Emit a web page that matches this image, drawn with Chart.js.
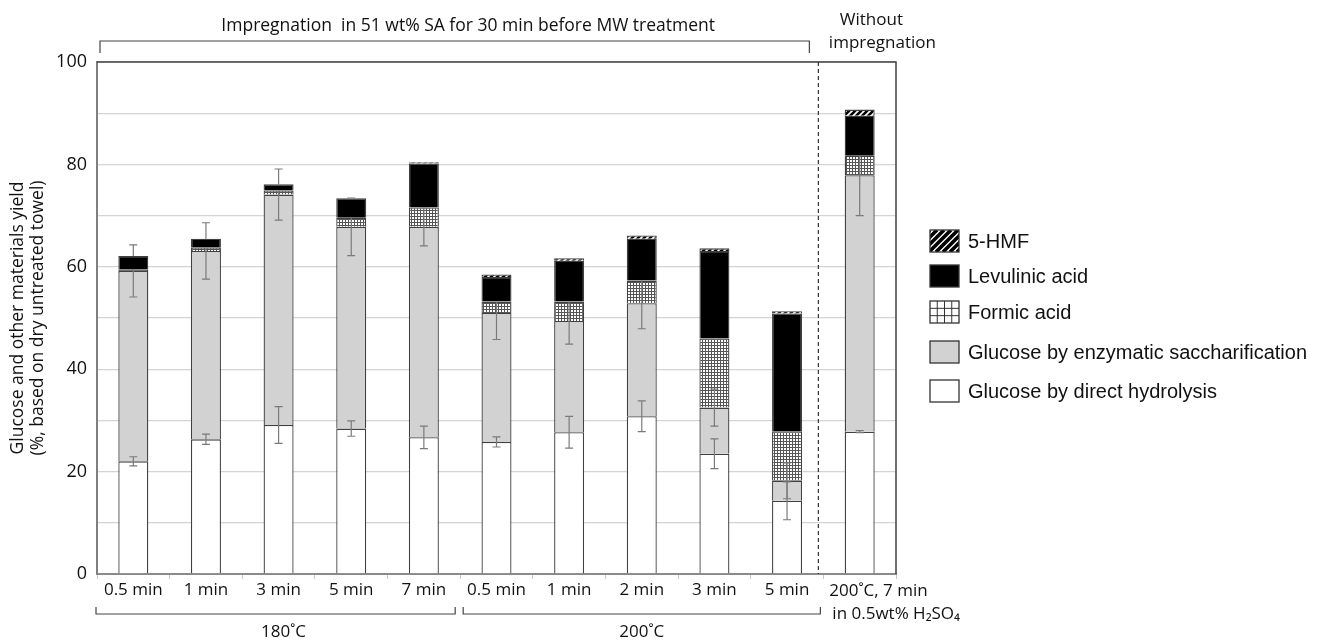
<!DOCTYPE html>
<html>
<head>
<meta charset="utf-8">
<script src="https://cdn.jsdelivr.net/npm/chart.js@4.4.1/dist/chart.umd.min.js"></script>
<style>
  html, body { margin: 0; padding: 0; background: #fff; }
</style>
</head>
<body>
<canvas id="myChart" width="1318" height="643"></canvas>
<script>
// x categories (last one is the reference run without impregnation)
const categories = ['0.5 min', '1 min', '3 min', '5 min', '7 min',
  '0.5 min', '1 min', '2 min', '3 min', '5 min',
  ['200˚C, 7 min', 'in 0.5wt% H₂SO₄']];

// stacked yields, %
const directHydrolysis = [22.0, 26.3, 29.1, 28.4, 26.7, 25.8, 27.7, 30.8, 23.5, 14.3, 27.8];
const enzymatic = [37.2, 36.8, 45.0, 39.4, 41.1, 25.2, 21.7, 22.1, 9.0, 3.9, 50.1];
const formicAcid = [0.3, 0.7, 0.8, 1.8, 3.8, 2.2, 3.8, 4.4, 13.5, 9.7, 3.8];
const levulinicAcid = [2.6, 1.7, 1.2, 3.8, 8.6, 4.8, 8.0, 8.2, 17.1, 23.0, 7.8];
const hmf = [0, 0, 0, 0, 0.2, 0.5, 0.45, 0.6, 0.5, 0.4, 1.2];

// error bars (+/-)
const directErr = [0.9, 1.0, 3.6, 1.5, 2.2, 1.0, 3.1, 3.0, 2.9, 3.7, 0.2];
const enzymaticErr = [5.1, 5.5, 5.0, 5.6, 3.7, 5.2, 4.5, 5.0, 3.6, 3.5, 7.9];

const groupLabels = ['180˚C', '200˚C'];
const topLabel = 'Impregnation  in 51 wt% SA for 30 min before MW treatment';
const sideLabel = ['Without', 'impregnation'];
const legendLabels = ['5-HMF', 'Levulinic acid', 'Formic acid',
  'Glucose by enzymatic saccharification', 'Glucose by direct hydrolysis'];

const canvas = document.getElementById('myChart');
const ctx = canvas.getContext('2d');

function makePattern(size, draw) {
  const c = document.createElement('canvas');
  c.width = size; c.height = size;
  draw(c.getContext('2d'), size);
  return ctx.createPattern(c, 'repeat');
}

const formicFill = makePattern(3, (g, s) => {
  g.fillStyle = '#fff'; g.fillRect(0, 0, s, s);
  g.fillStyle = '#555';
  g.fillRect(0, 0, s, 1); g.fillRect(0, 0, 1, s);
});
const hmfFill = makePattern(6, (g, s) => {
  g.fillStyle = '#fff'; g.fillRect(0, 0, s, s);
  g.strokeStyle = '#000'; g.lineWidth = 2.6;
  g.beginPath();
  g.moveTo(-1, s + 1); g.lineTo(s + 1, -1);
  g.moveTo(-1, 1); g.lineTo(1, -1);
  g.moveTo(s - 1, s + 1); g.lineTo(s + 1, s - 1);
  g.stroke();
});

const EDGE = '#404040';
const textFont = 'Open Sans';
const lastIdx = categories.length - 1;

function bar(label, data, fill) {
  return {
    label: label, data: data, backgroundColor: fill,
    borderColor: EDGE, borderWidth: 1.3,
    barPercentage: 0.413, categoryPercentage: 1
  };
}

// error bars, hidden behind the solid black levulinic segments like in the original
const errorBars = {
  id: 'errorBars',
  afterDatasetsDraw(chart) {
    const c = chart.ctx, ys = chart.scales.y;
    const lev = chart.getDatasetMeta(3).data;
    c.save();
    c.beginPath();
    c.rect(0, 0, chart.width, chart.height);
    lev.forEach(el => {
      const p = el.getProps(['x', 'y', 'base', 'width'], true);
      c.rect(p.x - p.width / 2, Math.min(p.y, p.base), p.width, Math.abs(p.base - p.y));
    });
    c.clip('evenodd');
    c.strokeStyle = '#7a7a7a';
    c.lineWidth = 1.2;
    [[0, directErr], [1, enzymaticErr]].forEach(([di, err]) => {
      chart.getDatasetMeta(di).data.forEach((el, i) => {
        let top = 0;
        for (let k = 0; k <= di; k++) top += chart.data.datasets[k].data[i];
        const x = el.x;
        const y1 = ys.getPixelForValue(top + err[i]);
        const y2 = ys.getPixelForValue(top - err[i]);
        c.beginPath();
        c.moveTo(x, y1); c.lineTo(x, y2);
        c.moveTo(x - 4, y1); c.lineTo(x + 4, y1);
        c.moveTo(x - 4, y2); c.lineTo(x + 4, y2);
        c.stroke();
      });
    });
    c.restore();
  }
};

// frame, dashed divider, brackets, group captions and legend
const annotations = {
  id: 'annotations',
  afterDraw(chart) {
    const c = chart.ctx, xs = chart.scales.x, a = chart.chartArea;
    const n = categories.length;
    const cw = (xs.right - xs.left) / n;
    const b = i => xs.left + i * cw;
    c.save();

    c.strokeStyle = '#404040';
    c.lineWidth = 1.5;
    c.beginPath();
    c.moveTo(a.left, a.top); c.lineTo(a.right, a.top); c.lineTo(a.right, a.bottom);
    c.stroke();

    c.setLineDash([4, 3]);
    c.lineWidth = 1.2;
    c.strokeStyle = '#333';
    c.beginPath();
    c.moveTo(b(10) - 5, a.top); c.lineTo(b(10) - 5, a.bottom);
    c.stroke();
    c.setLineDash([]);

    c.strokeStyle = '#444';
    c.lineWidth = 1.2;
    const bracket = (x1, x2, y, hook) => {
      c.beginPath();
      c.moveTo(x1, y + hook); c.lineTo(x1, y); c.lineTo(x2, y); c.lineTo(x2, y + hook);
      c.stroke();
    };
    bracket(b(0) - 1, b(5) - 5, 614, -7);
    bracket(b(5) + 3, b(10) - 3, 614, -7);
    bracket(b(0) + 3, b(10) - 14, 41, 12);

    c.fillStyle = '#111';
    c.font = '17px "' + textFont + '"';
    c.textAlign = 'center';
    c.textBaseline = 'middle';
    c.fillText(groupLabels[0], (b(0) + b(5)) / 2 + 5, 632);
    c.fillText(groupLabels[1], (b(5) + b(10)) / 2, 632);
    c.font = '17.5px "' + textFont + '"';
    c.fillText(topLabel, (b(0) + b(10)) / 2 + 8, 26);
    c.font = '17px "' + textFont + '"';
    c.fillText(sideLabel[0], b(10) + 48, 20);
    c.fillText(sideLabel[1], b(10) + 59, 43);

    // last category label sits to the right of its bar, left aligned
    c.textAlign = 'left';
    c.fillText(categories[lastIdx][0], b(lastIdx) + 6, 591);
    c.fillText(categories[lastIdx][1], b(lastIdx) + 9, 614);

    // legend
    const fills = [null, '#000', null, '#d2d2d2', '#fff'];
    const rows = [241, 276, 312, 352, 391];
    const bx = 930, bw = 29, bh = 22;
    c.font = '20px "Liberation Sans"';
    legendLabels.forEach((lab, i) => {
      const y = rows[i] - bh / 2;
      c.save();
      c.beginPath(); c.rect(bx, y, bw, bh); c.clip();
      c.fillStyle = '#fff'; c.fillRect(bx, y, bw, bh);
      if (i === 0) {
        c.strokeStyle = '#000'; c.lineWidth = 3.6;
        c.beginPath();
        for (let k = -bh; k < bw + bh; k += 7) {
          c.moveTo(bx + k, y + bh); c.lineTo(bx + k + bh, y);
        }
        c.stroke();
      } else if (i === 2) {
        c.strokeStyle = '#333'; c.lineWidth = 1;
        c.beginPath();
        for (let k = 1; k < 4; k++) { c.moveTo(bx + k * bw / 4, y); c.lineTo(bx + k * bw / 4, y + bh); }
        for (let k = 1; k < 3; k++) { c.moveTo(bx, y + k * bh / 3); c.lineTo(bx + bw, y + k * bh / 3); }
        c.stroke();
      } else {
        c.fillStyle = fills[i]; c.fillRect(bx, y, bw, bh);
      }
      c.restore();
      c.strokeStyle = '#333'; c.lineWidth = 1.3;
      c.strokeRect(bx, y, bw, bh);
      c.fillStyle = '#111';
      c.fillText(lab, bx + 38, rows[i] + 1);
    });
    c.restore();
  }
};

new Chart(canvas, {
  type: 'bar',
  data: {
    labels: categories,
    datasets: [
      bar('Glucose by direct hydrolysis', directHydrolysis, '#ffffff'),
      bar('Glucose by enzymatic saccharification', enzymatic, '#d2d2d2'),
      bar('Formic acid', formicAcid, formicFill),
      bar('Levulinic acid', levulinicAcid, '#000000'),
      bar('5-HMF', hmf, hmfFill)
    ]
  },
  options: {
    responsive: false,
    animation: false,
    devicePixelRatio: 1,
    layout: { padding: { left: 0, right: 422, top: 62, bottom: 0 } },
    plugins: { legend: { display: false }, tooltip: { enabled: false } },
    scales: {
      x: {
        stacked: true,
        afterFit: s => { s.height = 69; },
        grid: { drawOnChartArea: false, drawTicks: true, tickLength: 5, color: '#c8c8c8', offset: true },
        border: { color: '#8a8a8a', width: 2 },
        ticks: {
          padding: 0, maxRotation: 0, autoSkip: false, color: '#111',
          font: { family: textFont, size: 17, lineHeight: 1.3 },
          callback: (v, i) => (i === lastIdx ? '' : categories[i])
        }
      },
      y: {
        stacked: true,
        min: 0, max: 100,
        afterFit: s => { s.width = 97; },
        grid: { color: '#d4d4d4', lineWidth: 1.3, drawTicks: false },
        border: { color: '#7f7f7f', width: 2 },
        ticks: {
          stepSize: 10, padding: 10, color: '#111',
          font: { family: textFont, size: 18 },
          callback: v => (v % 20 === 0 ? v : '')
        },
        title: {
          display: true,
          text: ['Glucose and other materials yield', '(%, based on dry untreated towel)'],
          color: '#111',
          font: { family: textFont, size: 17.5, lineHeight: 1.15 },
          padding: { top: 8, bottom: 0 }
        }
      }
    }
  },
  plugins: [errorBars, annotations]
});
</script>
</body>
</html>
